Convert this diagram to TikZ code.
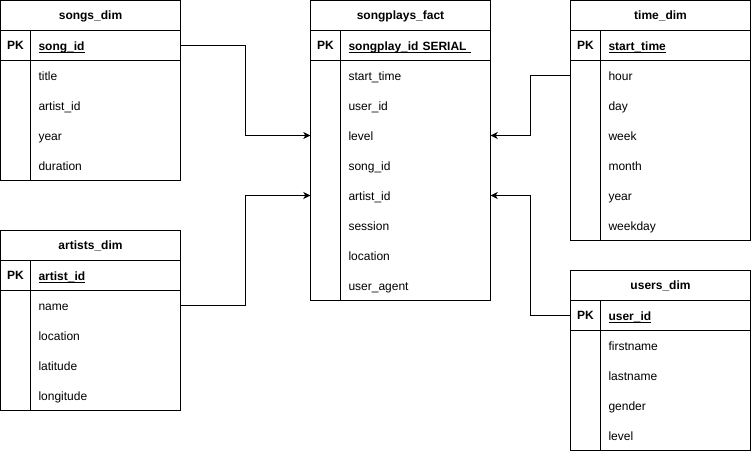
\documentclass[tikz,border=0pt]{standalone}
\usepackage{fontspec}
\setmainfont{Liberation Sans}
\usetikzlibrary{arrows.meta}
\newcommand{\pkul}[1]{\setbox0\hbox{#1}\rlap{\rule[-2pt]{\wd0}{0.9pt}}\box0}
\newcommand{\ertable}[6]{%
  \node[hdr] (#1-hdr) at (#2+90,#3+15) {#4};
  \node[pklab] (#1-pkl) at (#2+15,#3+45) {PK};
  \node[rowbox,font=\fontsize{12}{14}\selectfont\bfseries] (#1-pk) at (#2+105,#3+45) {\pkul{#5}};
  \foreach \rowtext [count=\i] in {#6} {
    \node[rowbox] (#1-r\i) at (#2+105,#3+45+30*\i) {\rowtext};
    \xdef\ernrows{\i}
  }
  \draw[tline] (#2,#3) rectangle (#2+180,#3+60+30*\ernrows);
  \draw[tline] (#2,#3+30) -- (#2+180,#3+30);
  \draw[tline] (#2,#3+60) -- (#2+180,#3+60);
  \draw[tline] (#2+30,#3+30) -- (#2+30,#3+60+30*\ernrows);
}
\tikzset{
  basefont/.style={font=\fontsize{12}{14}\selectfont},
  hdr/.style={font=\fontsize{12}{14}\selectfont\bfseries, minimum width=180pt, minimum height=30pt, inner sep=0pt, text height=10pt, text depth=2pt},
  pklab/.style={font=\fontsize{12}{14}\selectfont\bfseries, minimum width=30pt, minimum height=30pt, inner sep=0pt, text height=10pt, text depth=2pt},
  rowbox/.style={basefont, minimum height=30pt, text width=134pt, inner xsep=8pt, inner ysep=0pt, align=left, text height=11pt, text depth=1pt},
  tline/.style={line width=1pt, draw=black},
  conn/.style={line width=1pt, draw=black, -{Stealth[length=7pt,width=7pt,inset=2pt]}},
}
\begin{document}
\begin{tikzpicture}[x=1pt,y=-1pt]
\useasboundingbox (-0.5,-0.5) rectangle (750.5,450.5);
\ertable{songs}{0}{0}{songs\_dim}{song\_id}{title,artist\_id,year,duration}
\ertable{fact}{310}{0}{songplays\_fact}{songplay\_id SERIAL\ }{start\_time,user\_id,level,song\_id,artist\_id,session,location,user\_agent}
\ertable{time}{570}{0}{time\_dim}{start\_time}{hour,day,week,month,year,weekday}
\ertable{artists}{0}{230}{artists\_dim}{artist\_id}{name,location,latitude,longitude}
\ertable{users}{570}{270}{users\_dim}{user\_id}{firstname,lastname,gender,level}
\draw[conn] (songs-pk.east) -- ++(65,0) |- (fact-hdr.west |- fact-r3.west);
\draw[conn] (artists-r1.east) -- ++(65,0) |- (fact-hdr.west |- fact-r5.west);
\draw[conn] (time-hdr.west |- time-r1.west) -- ++(-40,0) |- (fact-r3.east);
\draw[conn] (users-hdr.west |- users-pk.west) -- ++(-40,0) |- (fact-r5.east);
\end{tikzpicture}
\end{document}
